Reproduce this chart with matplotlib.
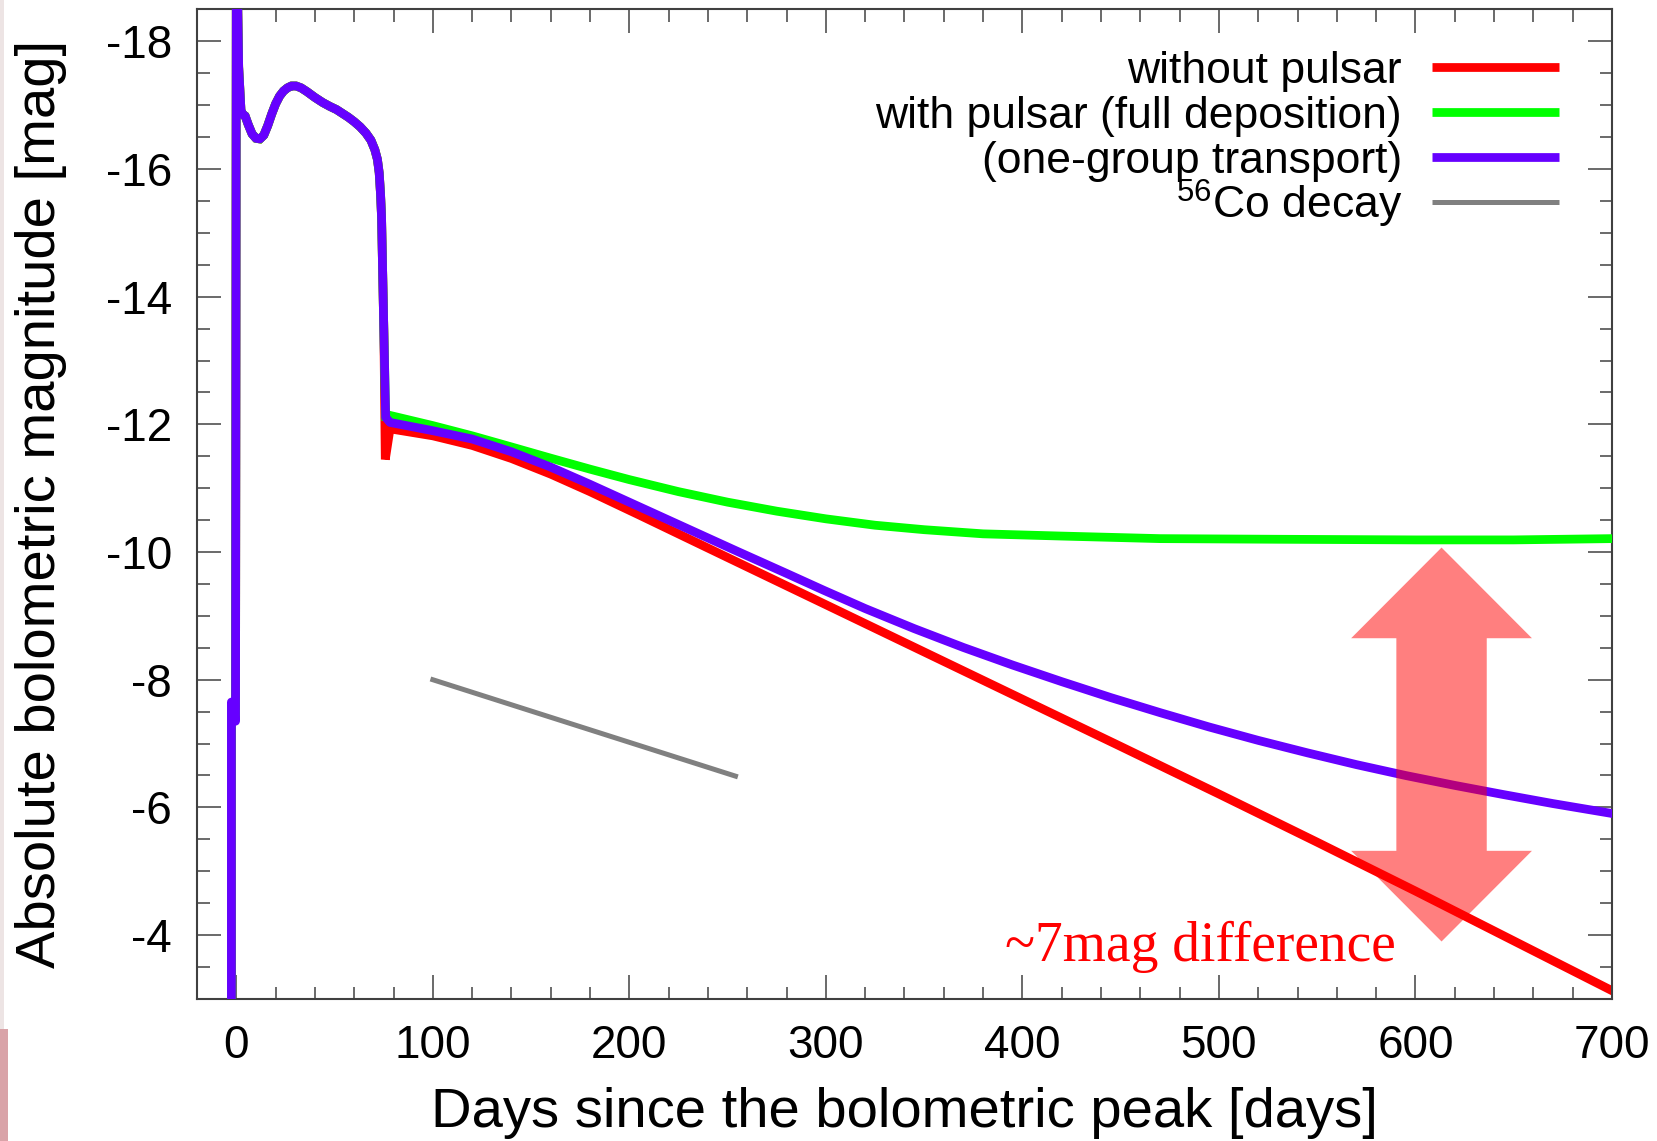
import matplotlib
matplotlib.use("Agg")
import matplotlib.pyplot as plt
import numpy as np
from matplotlib.patches import Polygon, Rectangle
from matplotlib.ticker import MultipleLocator, FormatStrFormatter

# shock breakout + plateau, identical for every model up to ~75 days
early_days = [-2.5, -2.5, -0.4, 0.0, 0.4, 1.2, 2.4, 3.5, 4.5, 6.0, 8.0, 10.0, 12.0,
              14.0, 16.0, 18.0, 20.0, 22.0, 24.0, 26.0, 28.0, 30.4, 33.0, 36.0,
              40.0, 44.0, 47.6, 51.0, 54.0, 57.0, 60.0, 63.0, 66.0, 68.5, 70.5,
              71.8, 72.7, 73.4, 73.9, 75.1]
early_mag = [-2.9, -7.65, -7.35, -19.2, -19.2, -17.6, -16.9, -16.85, -16.83, -16.7,
             -16.55, -16.48, -16.47, -16.53, -16.68, -16.86, -17.02, -17.14, -17.22,
             -17.27, -17.3, -17.3, -17.27, -17.21, -17.12, -17.04, -16.98, -16.93,
             -16.87, -16.81, -16.74, -16.66, -16.56, -16.45, -16.3, -16.15, -15.94,
             -15.6, -15.25, -13.42]

# tails after the plateau drop
nopsr_days = [75.8, 78.2, 100, 120, 140, 160, 180, 205, 230, 255, 300, 350, 400, 450,
              500, 550, 600, 650, 700]
nopsr_mag = [-11.45, -11.93, -11.82, -11.67, -11.465, -11.22, -10.945, -10.58, -10.21,
             -9.84, -9.175, -8.435, -7.695, -6.955, -6.21, -5.455, -4.69, -3.91, -3.13]

full_days = [76.0, 78.2, 100, 120, 140, 160, 180, 200, 225, 250, 275, 300, 325, 350,
             380, 420, 470, 530, 600, 650, 700]
full_mag = [-12.13, -12.14, -11.98, -11.82, -11.646, -11.47, -11.298, -11.134, -10.946,
            -10.781, -10.64, -10.52, -10.42, -10.35, -10.285, -10.25, -10.21, -10.2,
            -10.19, -10.19, -10.21]

onegroup_days = [76.0, 78.2, 100, 120, 140, 160, 180, 205, 230, 255, 280, 299, 320,
                 345, 370, 395, 420, 445, 470, 495, 520, 545, 570, 595, 620, 645, 670,
                 700]
onegroup_mag = [-12.11, -12.03, -11.9, -11.77, -11.57, -11.33, -11.06, -10.71, -10.36,
                -10.01, -9.665, -9.4, -9.115, -8.8, -8.505, -8.23, -7.97, -7.72,
                -7.485, -7.26, -7.05, -6.855, -6.67, -6.5, -6.345, -6.2, -6.06, -5.905]

# 56Co decay slope reference
co_days = [100, 254]
co_mag = [-8.0, -6.49]

labels = ["without pulsar", "with pulsar (full deposition)", "(one-group transport)",
          "$^{56}$Co decay"]
colors = ["#ff0000", "#00ff00", "#6600ff", "#808080"]

plt.rcParams["font.family"] = ["Liberation Sans", "DejaVu Sans"]
plt.rcParams["axes.unicode_minus"] = False
plt.rcParams["mathtext.fontset"] = "custom"
plt.rcParams["mathtext.rm"] = "Liberation Sans"
plt.rcParams["mathtext.it"] = "Liberation Sans"

fig = plt.figure(figsize=(16.57, 11.41), dpi=100)
ax = fig.add_axes([0.1189, 0.1245, 0.8539, 0.8673])

# slide edge strip
fig.patches.append(Rectangle((0, 0.098), 0.0027, 0.902, transform=fig.transFigure,
                             facecolor="#ede4e4", edgecolor="none"))
fig.patches.append(Rectangle((0, 0), 0.005, 0.098, transform=fig.transFigure,
                             facecolor="#d9a3a8", edgecolor="none"))


def curve(days, mags):
    return np.array(early_days + days), np.array(early_mag + mags)


lw = 6.3
x, y = curve(nopsr_days, nopsr_mag)
ax.plot(x, y, color=colors[0], lw=lw, solid_joinstyle="miter", zorder=2)
x, y = curve(full_days, full_mag)
ax.plot(x, y, color=colors[1], lw=lw, solid_joinstyle="miter", zorder=3)
x, y = curve(onegroup_days, onegroup_mag)
ax.plot(x, y, color=colors[2], lw=lw, solid_joinstyle="round", zorder=4)
ax.plot(co_days, co_mag, color=colors[3], lw=3.6, zorder=2)

ax.set_xlim(-20, 700)
ax.set_ylim(-3, -18.5)

# double arrow marking the gap between the models
ax_x, top, bot = 613.3, -10.07, -3.9
head_w, shaft_w, head_h = 46, 23, 1.42
arrow = [(ax_x, top), (ax_x + head_w, top + head_h), (ax_x + shaft_w, top + head_h),
         (ax_x + shaft_w, bot - head_h), (ax_x + head_w, bot - head_h), (ax_x, bot),
         (ax_x - head_w, bot - head_h), (ax_x - shaft_w, bot - head_h),
         (ax_x - shaft_w, top + head_h), (ax_x - head_w, top + head_h)]
ax.add_patch(Polygon(arrow, closed=True, facecolor="#ff0000", alpha=0.5,
                     edgecolor="none", zorder=5))
ax.text(590, -3.6, "~7mag difference", color="#ff0000", fontsize=40,
        family=["Liberation Serif", "DejaVu Serif"], ha="right", va="baseline", zorder=6)

# legend: label on the left, sample line on the right
for i, (lab, col) in enumerate(zip(labels, colors)):
    ly = 0.9417 - i * 0.0456
    ax.plot([0.8728, 0.9625], [ly, ly], transform=ax.transAxes, color=col,
            lw=lw if i < 3 else 3.6, solid_capstyle="butt", clip_on=False)
    ax.text(0.8516, ly - 0.016, lab, transform=ax.transAxes, ha="right",
            va="baseline", fontsize=32)

ax.xaxis.set_major_locator(MultipleLocator(100))
ax.xaxis.set_minor_locator(MultipleLocator(20))
ax.yaxis.set_major_locator(MultipleLocator(2))
ax.yaxis.set_minor_locator(MultipleLocator(0.5))
ax.yaxis.set_major_formatter(FormatStrFormatter("%d"))

ax.tick_params(which="both", direction="in", top=True, right=True, color="#505050",
               width=1.2, labelsize=33)
ax.tick_params(which="major", length=17.5)
ax.tick_params(which="minor", length=9)
ax.tick_params(axis="x", pad=18)
ax.tick_params(axis="y", pad=18)
for sp in ax.spines.values():
    sp.set_color("#404040")
    sp.set_linewidth(1.5)

ax.set_xlabel("Days since the bolometric peak [days]", fontsize=40.5)
ax.set_ylabel("Absolute bolometric magnitude [mag]", fontsize=40.5)
ax.xaxis.set_label_coords(0.5, -0.089)
ax.yaxis.set_label_coords(-0.092, 0.5)

fig.savefig("out.png", dpi=100)
